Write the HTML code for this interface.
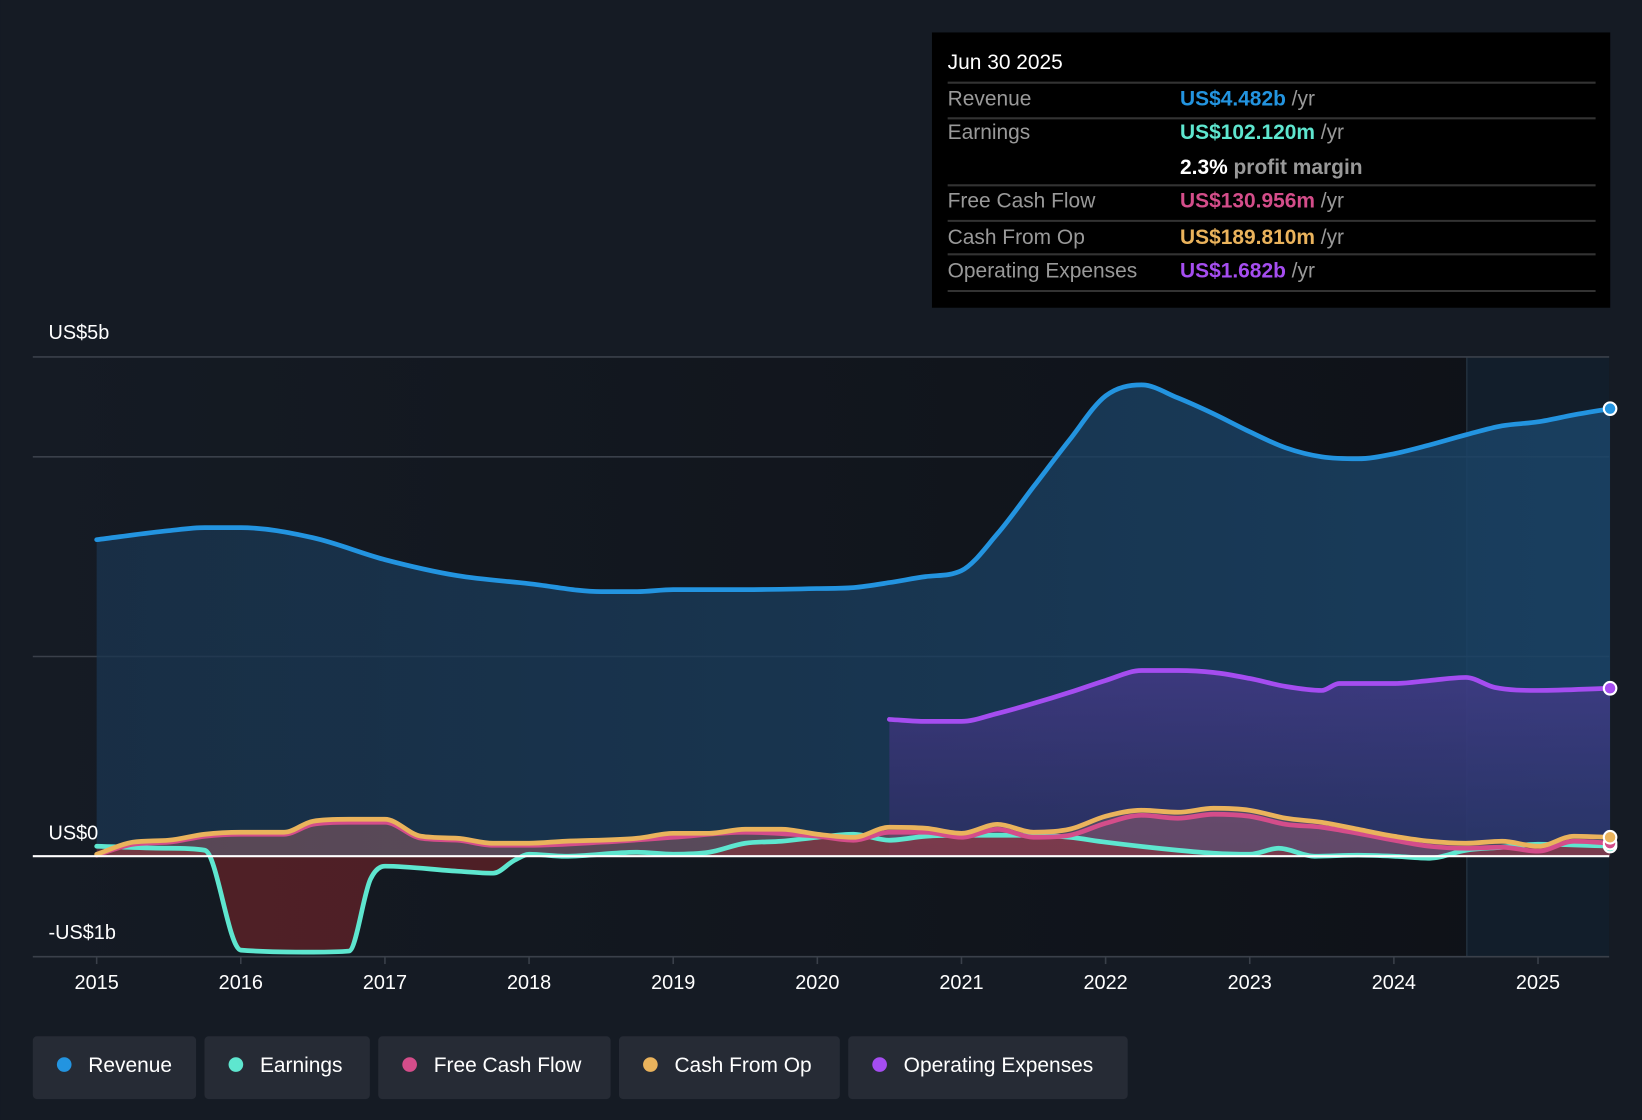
<!DOCTYPE html>
<html><head><meta charset="utf-8"><style>
html,body{margin:0;padding:0;background:#151b24;}
svg{display:block;font-family:"Liberation Sans",sans-serif;}
</style></head><body>
<svg id="chart" width="1642" height="1120" viewBox="0 0 1568 1070">
<defs>
<linearGradient id="plotbg" x1="0" x2="1" y1="0" y2="0"><stop offset="0" stop-color="#151b24"/><stop offset="1" stop-color="#0e1117"/></linearGradient>
<linearGradient id="revfill" x1="0" x2="1" y1="0" y2="0"><stop offset="0" stop-color="#1a3550" stop-opacity="0.75"/><stop offset="1" stop-color="#1a4468" stop-opacity="0.85"/></linearGradient>
<linearGradient id="opfill" x1="0" x2="0" y1="0" y2="1"><stop offset="0" stop-color="#5a3aa0" stop-opacity="0.55"/><stop offset="1" stop-color="#3a2a70" stop-opacity="0.45"/></linearGradient>
</defs>
<rect x="0" y="0" width="1568" height="1070" fill="#151b24"/>
<rect x="31" y="341" width="1506" height="573" fill="url(#plotbg)"/>
<rect x="1401" y="341" width="136" height="573" fill="#1a3650" opacity="0.35"/>
<line x1="1401" y1="341" x2="1401" y2="914" stroke="#2a3a4a" stroke-width="1"/>
<g id="grid"></g>
<g id="areas"></g>
<g id="lines"></g>
<g id="axis"></g>
<text x="46" y="324" fill="#fff" font-size="19">US$5b</text>
<text x="46" y="802" fill="#fff" font-size="19">US$0</text>
<text x="46" y="897" fill="#fff" font-size="19">-US$1b</text>

<g>
<rect x="890" y="31" width="648" height="263" fill="#000"/>
<text x="905" y="66" fill="#fff" font-size="20">Jun 30 2025</text>
<line x1="905" y1="79" x2="1524" y2="79" stroke="#333" stroke-width="2"/>
<text x="905" y="101" fill="#999" font-size="20">Revenue</text>
<text x="1127" y="101" font-size="20" font-weight="bold" fill="#2394e0">US$4.482b <tspan fill="#999" font-weight="normal">/yr</tspan></text>
<line x1="905" y1="113" x2="1524" y2="113" stroke="#333" stroke-width="2"/>
<text x="905" y="133" fill="#999" font-size="20">Earnings</text>
<text x="1127" y="133" font-size="20" font-weight="bold" fill="#5ee6cf">US$102.120m <tspan fill="#999" font-weight="normal">/yr</tspan></text>
<text x="1127" y="166" font-size="20" font-weight="bold" fill="#fff">2.3% <tspan fill="#999">profit margin</tspan></text>
<line x1="905" y1="177" x2="1524" y2="177" stroke="#333" stroke-width="2"/>
<text x="905" y="198" fill="#999" font-size="20">Free Cash Flow</text>
<text x="1127" y="198" font-size="20" font-weight="bold" fill="#d44d8a">US$130.956m <tspan fill="#999" font-weight="normal">/yr</tspan></text>
<line x1="905" y1="211" x2="1524" y2="211" stroke="#333" stroke-width="2"/>
<text x="905" y="233" fill="#999" font-size="20">Cash From Op</text>
<text x="1127" y="233" font-size="20" font-weight="bold" fill="#eab35c">US$189.810m <tspan fill="#999" font-weight="normal">/yr</tspan></text>
<line x1="905" y1="243" x2="1524" y2="243" stroke="#333" stroke-width="2"/>
<text x="905" y="265" fill="#999" font-size="20">Operating Expenses</text>
<text x="1127" y="265" font-size="20" font-weight="bold" fill="#a54df0">US$1.682b <tspan fill="#999" font-weight="normal">/yr</tspan></text>
<line x1="905" y1="278" x2="1524" y2="278" stroke="#333" stroke-width="2"/>
</g>

<g>
<g><rect x="31" y="990" width="156" height="60" rx="4" fill="#262b35"/><circle cx="61" cy="1017" r="7" fill="#2394e0"/><text x="84" y="1024" fill="#fff" font-size="20">Revenue</text></g>
<g><rect x="195" y="990" width="158" height="60" rx="4" fill="#262b35"/><circle cx="225" cy="1017" r="7" fill="#5ee6cf"/><text x="248" y="1024" fill="#fff" font-size="20">Earnings</text></g>
<g><rect x="361" y="990" width="222" height="60" rx="4" fill="#262b35"/><circle cx="391" cy="1017" r="7" fill="#d44d8a"/><text x="414" y="1024" fill="#fff" font-size="20">Free Cash Flow</text></g>
<g><rect x="591" y="990" width="211" height="60" rx="4" fill="#262b35"/><circle cx="621" cy="1017" r="7" fill="#eab35c"/><text x="644" y="1024" fill="#fff" font-size="20">Cash From Op</text></g>
<g><rect x="810" y="990" width="267" height="60" rx="4" fill="#262b35"/><circle cx="840" cy="1017" r="7" fill="#a54df0"/><text x="863" y="1024" fill="#fff" font-size="20">Operating Expenses</text></g>
</g>
</svg>
<script>
const years=[2015,2016,2017,2018,2019,2020,2021,2022,2023,2024,2025];
const gridValues=[5,4,2];
const revT=[2015,2015.5,2015.75,2016,2016.5,2017,2017.5,2018,2018.5,2018.75,2019,2019.5,2020,2020.25,2020.5,2020.75,2021,2021.25,2021.5,2021.75,2022,2022.25,2022.5,2022.75,2023,2023.25,2023.5,2023.75,2024,2024.25,2024.5,2024.75,2025,2025.25,2025.5];
const revV=[3.17,3.26,3.29,3.29,3.19,2.97,2.81,2.73,2.65,2.65,2.67,2.67,2.68,2.69,2.74,2.80,2.86,3.23,3.70,4.17,4.61,4.72,4.59,4.43,4.25,4.09,4.00,3.98,4.03,4.12,4.22,4.31,4.35,4.42,4.482];
const opxT=[2020.5,2020.75,2021,2021.25,2021.5,2021.75,2022,2022.25,2022.5,2022.75,2023,2023.25,2023.5,2023.62,2024,2024.25,2024.5,2024.7,2025,2025.5];
const opxV=[1.37,1.35,1.35,1.43,1.53,1.64,1.76,1.86,1.86,1.84,1.78,1.70,1.66,1.73,1.73,1.76,1.79,1.69,1.66,1.682];
const earnT=[2015,2015.5,2015.75,2016,2016.5,2016.75,2016.9,2017,2017.5,2017.75,2017.9,2018,2018.25,2018.75,2019,2019.25,2019.5,2019.75,2020,2020.25,2020.5,2020.75,2021,2021.5,2021.75,2022,2022.5,2022.75,2023,2023.2,2023.45,2023.75,2024,2024.25,2024.5,2024.75,2025,2025.5];
const earnV=[0.10,0.08,0.06,-0.94,-0.96,-0.95,-0.23,-0.10,-0.15,-0.17,-0.04,0.02,0,0.04,0.02,0.04,0.13,0.15,0.19,0.22,0.16,0.20,0.21,0.21,0.19,0.14,0.06,0.03,0.02,0.08,0,0.01,0,-0.02,0.06,0.09,0.12,0.102];
const cfoT=[2015,2015.25,2015.5,2015.75,2016,2016.3,2016.5,2016.75,2017,2017.25,2017.5,2017.75,2018,2018.25,2018.75,2019,2019.25,2019.5,2019.75,2020,2020.25,2020.5,2020.75,2021,2021.25,2021.5,2021.75,2022,2022.25,2022.5,2022.75,2023,2023.25,2023.5,2023.75,2024,2024.25,2024.5,2024.75,2025,2025.25,2025.5];
const cfoV=[0.02,0.14,0.16,0.22,0.24,0.24,0.35,0.37,0.37,0.20,0.18,0.13,0.13,0.15,0.18,0.23,0.23,0.27,0.27,0.22,0.19,0.29,0.28,0.23,0.32,0.24,0.27,0.40,0.46,0.44,0.48,0.46,0.38,0.34,0.27,0.20,0.15,0.13,0.15,0.10,0.20,0.19];
const fcfT=[2015,2015.25,2015.5,2015.75,2016,2016.3,2016.5,2016.75,2017,2017.25,2017.5,2017.75,2018,2018.5,2019,2019.5,2020,2020.25,2020.5,2020.75,2021,2021.25,2021.5,2021.75,2022,2022.25,2022.5,2022.75,2023,2023.25,2023.5,2023.75,2024,2024.25,2024.5,2024.75,2025,2025.25,2025.5];
const fcfV=[0.01,0.12,0.14,0.20,0.22,0.22,0.32,0.34,0.34,0.18,0.16,0.11,0.11,0.14,0.19,0.24,0.20,0.16,0.24,0.24,0.19,0.27,0.19,0.21,0.33,0.41,0.38,0.42,0.40,0.32,0.29,0.23,0.16,0.10,0.08,0.09,0.05,0.15,0.131];

const NS='http://www.w3.org/2000/svg';
const X=t=>92+(t-2015)*137.7;
const Y=v=>818-v*95.4;
function mk(tag,attrs,parent){const e=document.createElementNS(NS,tag);for(const k in attrs)e.setAttribute(k,attrs[k]);document.getElementById(parent).appendChild(e);return e;}
gridValues.forEach(v=>{
  const g=mk('line',{x1:31,x2:1537,y1:Y(v),y2:Y(v),stroke:'#3a404a','stroke-width':1.5},'grid');
  
  
});
const bl=mk('line',{x1:31,x2:1537,y1:914,y2:914,stroke:'#3a404a','stroke-width':1.5},'grid');


years.forEach(yr=>{
  const tk=mk('line',{x1:X(yr),x2:X(yr),y1:914,y2:921,stroke:'#3a404a','stroke-width':1.5},'axis');
  
  
  const t=mk('text',{x:X(yr),y:945,fill:'#fff','font-size':19,'text-anchor':'middle'},'axis');
  t.textContent=yr;
  
  
});
function smooth(T,V){
  const xs=T.map(X), ys=V.map(Y), n=xs.length;
  const d=[],m=[];
  for(let i=0;i<n-1;i++) d.push((ys[i+1]-ys[i])/(xs[i+1]-xs[i]));
  m[0]=d[0]; m[n-1]=d[n-2];
  for(let i=1;i<n-1;i++){ m[i]=(d[i-1]*d[i]<=0)?0:(d[i-1]+d[i])/2; }
  for(let i=0;i<n-1;i++){
    if(d[i]===0){m[i]=0;m[i+1]=0;continue;}
    const a=m[i]/d[i],b=m[i+1]/d[i],s=a*a+b*b;
    if(s>9){const t=3/Math.sqrt(s);m[i]=t*a*d[i];m[i+1]=t*b*d[i];}
  }
  let p='M'+xs[0].toFixed(1)+','+ys[0].toFixed(1);
  for(let i=0;i<n-1;i++){
    const h=(xs[i+1]-xs[i])/3;
    p+=' C'+(xs[i]+h).toFixed(1)+','+(ys[i]+m[i]*h).toFixed(1)+' '+(xs[i+1]-h).toFixed(1)+','+(ys[i+1]-m[i+1]*h).toFixed(1)+' '+xs[i+1].toFixed(1)+','+ys[i+1].toFixed(1);
  }
  return p;
}
function area(T,V,fill,name){
  const d=smooth(T,V)+' L'+X(T[T.length-1])+','+Y(0)+' L'+X(T[0])+','+Y(0)+'Z';
  const a=mk('path',{d:d,fill:fill},'areas');
  
  
}
function line(T,V,color,name){
  const l=mk('path',{d:smooth(T,V),fill:'none',stroke:color,'stroke-width':4.5,'stroke-linejoin':'round','stroke-linecap':'round'},'lines');
  
  
  const c=mk('circle',{cx:X(T[T.length-1]),cy:Y(V[V.length-1]),r:6,fill:color,stroke:'#fff','stroke-width':2},'lines');
  
  
}
area(revT,revV,'url(#revfill)','revenue-area');
area(opxT,opxV,'url(#opfill)','opex-area');
area(cfoT,cfoV,'rgba(234,179,92,0.18)','cfo-area');
area(fcfT,fcfV,'rgba(212,77,138,0.18)','fcf-area');
area(earnT,earnV,'rgba(150,40,45,0.45)','earnings-area');
line(revT,revV,'#2394e0','revenue-line');
line(opxT,opxV,'#a54df0','opex-line');
line(earnT,earnV,'#5ee6cf','earnings-line');
line(fcfT,fcfV,'#d44d8a','fcf-line');
line(cfoT,cfoV,'#eab35c','cfo-line');
const z=mk('line',{x1:31,x2:1537,y1:Y(0),y2:Y(0),stroke:'#fff','stroke-width':2},'axis');


</script>
</body></html>
